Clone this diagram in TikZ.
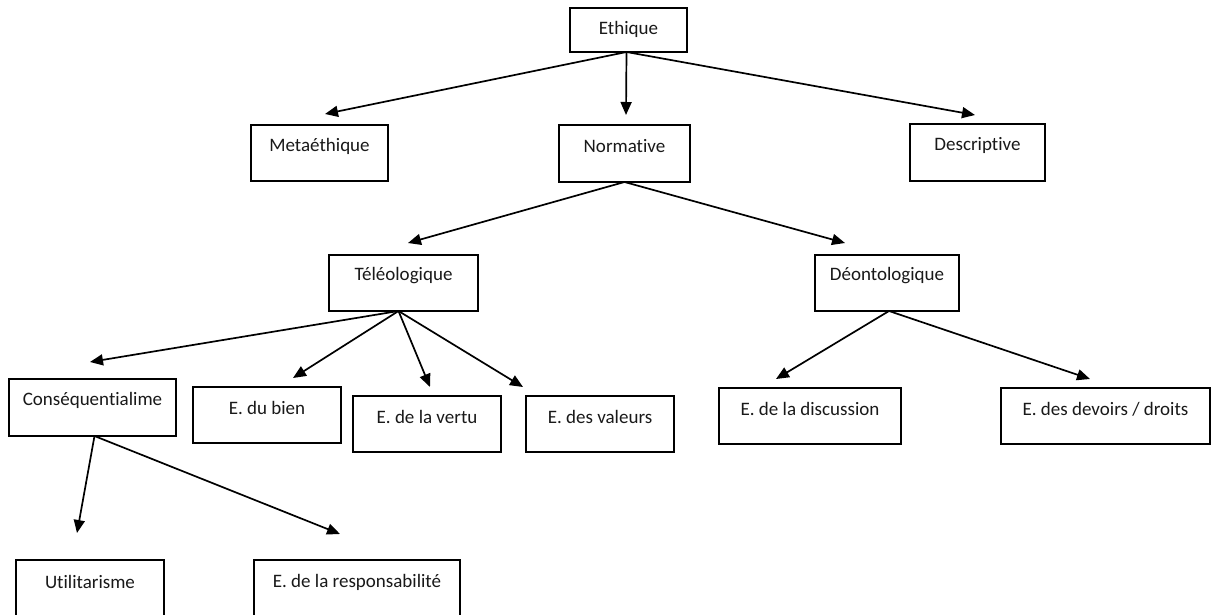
\documentclass[tikz,border=0pt]{standalone}
\usepackage{fontspec}
\setmainfont{Carlito}[Ligatures=NoCommon]
\usetikzlibrary{arrows.meta}
\begin{document}
\begin{tikzpicture}[x=1pt,y=-1pt,
  box/.style={draw=black, line width=2pt, rectangle, inner sep=0pt, outer sep=0pt},
  lbl/.style={inner sep=0pt, font=\fontsize{19}{22}\selectfont, text=black!90},
  arr/.style={line width=1.7pt, -{Triangle[length=13pt,width=11pt]}}
]
\useasboundingbox (0,0) rectangle (1215,615);
\clip (0,0) rectangle (1215,615);
\fill[white] (0,0) rectangle (1215,615);

% boxes
\node[box, minimum width=117pt, minimum height=44pt] (eth) at (628.5,30) {};
\node[box, minimum width=137pt, minimum height=56pt] (meta) at (319.5,153) {};
\node[box, minimum width=131pt, minimum height=57pt] (norm) at (624.5,153.5) {};
\node[box, minimum width=135pt, minimum height=57pt] (desc) at (977.5,152.5) {};
\node[box, minimum width=149pt, minimum height=56pt] (tele) at (403.5,283) {};
\node[box, minimum width=144pt, minimum height=56pt] (deon) at (887,283) {};
\node[box, minimum width=167pt, minimum height=57pt] (cons) at (92.5,407.5) {};
\node[box, minimum width=148pt, minimum height=56pt] (bien) at (267,415) {};
\node[box, minimum width=148pt, minimum height=56pt] (vertu) at (427,424) {};
\node[box, minimum width=148pt, minimum height=56pt] (val) at (600,424) {};
\node[box, minimum width=182pt, minimum height=56pt] (disc) at (810,416) {};
\node[box, minimum width=209pt, minimum height=56pt] (dev) at (1105.5,416) {};
\node[box, minimum width=148pt, minimum height=80pt] (util) at (90,600) {};
\node[box, minimum width=206pt, minimum height=80pt] (resp) at (357,600) {};

% labels
\node[lbl] (l-eth) at ([yshift=-21pt]eth.north) {Ethique};
\node[lbl] (l-meta) at ([yshift=-21pt]meta.north) {Metaéthique};
\node[lbl] (l-norm) at ([yshift=-21pt]norm.north) {Normative};
\node[lbl] (l-desc) at ([yshift=-21pt]desc.north) {Descriptive};
\node[lbl] (l-tele) at ([yshift=-21pt]tele.north) {Téléologique};
\node[lbl] (l-deon) at ([yshift=-21pt]deon.north) {Déontologique};
\node[lbl] (l-cons) at ([yshift=-21pt]cons.north) {Conséquentialime};
\node[lbl] (l-bien) at ([yshift=-21pt]bien.north) {E. du bien};
\node[lbl] (l-vertu) at ([yshift=-21pt]vertu.north) {E. de la vertu};
\node[lbl] (l-val) at ([yshift=-21pt]val.north) {E. des valeurs};
\node[lbl] (l-disc) at ([yshift=-21pt]disc.north) {E. de la discussion};
\node[lbl] (l-dev) at ([yshift=-21pt]dev.north) {E. des devoirs / droits};
\node[lbl] (l-util) at ([yshift=-22pt]util.north) {Utilitarisme};
\node[lbl] (l-resp) at ([yshift=-22pt]resp.north) {E. de la responsabilité};

% arrow tips
\coordinate (t-meta) at (325,114);
\coordinate (t-norm) at (626,115);
\coordinate (t-desc) at (975,115);
\coordinate (t-tele) at (408,243);
\coordinate (t-deon) at (845,243);
\coordinate (t-cons) at (90,362);
\coordinate (t-bien) at (293,378);
\coordinate (t-vertu) at (430,387);
\coordinate (t-val) at (523,387);
\coordinate (t-disc) at (776,379);
\coordinate (t-dev) at (1090,379);
\coordinate (t-util) at (77,533);
\coordinate (t-resp) at (340,534);

% arrows
\draw[arr] ([xshift=-2pt]eth.south) -- (t-meta);
\draw[arr] ([xshift=-2pt]eth.south) -- (t-norm);
\draw[arr] ([xshift=-2pt]eth.south) -- (t-desc);
\draw[arr] (norm.south) -- (t-tele);
\draw[arr] (norm.south) -- (t-deon);
\draw[arr] ([xshift=-5pt]tele.south) -- (t-cons);
\draw[arr] ([xshift=-5pt]tele.south) -- (t-bien);
\draw[arr] ([xshift=-5pt]tele.south) -- (t-vertu);
\draw[arr] ([xshift=-5pt]tele.south) -- (t-val);
\draw[arr] ([xshift=2pt]deon.south) -- (t-disc);
\draw[arr] ([xshift=2pt]deon.south) -- (t-dev);
\draw[arr] ([xshift=2pt]cons.south) -- (t-util);
\draw[arr] ([xshift=2pt]cons.south) -- (t-resp);
\end{tikzpicture}
\end{document}
